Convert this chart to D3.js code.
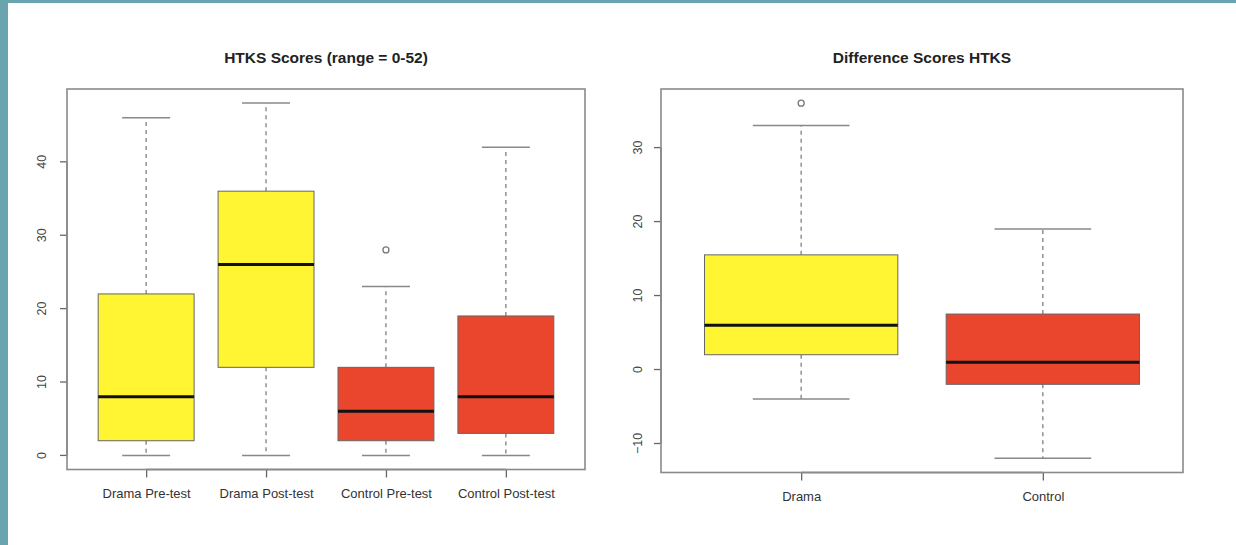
<!DOCTYPE html>
<html>
<head>
<meta charset="utf-8">
<script src="https://cdn.jsdelivr.net/npm/d3@7"></script>
<style>
  html, body { margin: 0; padding: 0; }
  body { width: 1236px; height: 545px; background: #6aa4ae; overflow: hidden; position: relative; }
  #sheet { position: absolute; left: 8px; top: 3px; right: 0; bottom: 0; background: #fff; }
  svg { position: absolute; left: 0; top: 0; }
  text { font-family: "Liberation Sans", Arial, Helvetica, sans-serif; }
</style>
</head>
<body>
<div id="sheet"></div>
<script>
// HTKS raw scores (boxplot summary)
const htksCats = ['Drama Pre-test', 'Drama Post-test', 'Control Pre-test', 'Control Post-test'];
const htksLow = [0, 0, 0, 0];
const htksQ1 = [2, 12, 2, 3];
const htksMedian = [8, 26, 6, 8];
const htksQ3 = [22, 36, 12, 19];
const htksHigh = [46, 48, 23, 42];
const htksOutliers = [[], [], [28], []];
const htksTicks = [0, 10, 20, 30, 40];

// difference scores
const diffCats = ['Drama', 'Control'];
const diffLow = [-4, -12];
const diffQ1 = [2, -2];
const diffMedian = [6, 1];
const diffQ3 = [15.5, 7.5];
const diffHigh = [33, 19];
const diffOutliers = [[36], []];
const diffTicks = [-10, 0, 10, 20, 30];

const colours = { Drama: '#fff533', Control: '#ea462e' };

const svg = d3.select('body').append('svg')
  .attr('width', 1236)
  .attr('height', 545);

function boxplot(cfg) {
  const n = cfg.cats.length;
  const rows = cfg.cats.map((c, i) => ({
    cat: c, pos: i + 1,
    low: cfg.low[i], q1: cfg.q1[i], med: cfg.median[i], q3: cfg.q3[i], high: cfg.high[i],
    out: cfg.outliers[i]
  }));

  // R style ranges, padded by 4%
  const all = rows.flatMap(d => [d.low, d.high, ...d.out]);
  const lo = d3.min(all), hi = d3.max(all);
  const pad = (hi - lo) * 0.04;
  const y = d3.scaleLinear().domain([lo - pad, hi + pad]).range([cfg.bottom, cfg.top]);
  const x = d3.scaleLinear().domain([0.5 - 0.04 * n, n + 0.5 + 0.04 * n]).range([cfg.left, cfg.right]);
  const step = x(2) - x(1);
  const boxW = step * 0.8;
  const capW = boxW * 0.5;

  const g = svg.append('g');

  // title
  g.append('text')
    .attr('x', (cfg.left + cfg.right) / 2)
    .attr('y', 63)
    .attr('text-anchor', 'middle')
    .attr('font-size', 15.5)
    .attr('font-weight', 'bold')
    .attr('fill', '#222')
    .text(cfg.title);

  const box = g.selectAll('.box').data(rows).join('g').attr('class', 'box');

  // whiskers
  box.append('line')
    .attr('x1', d => x(d.pos)).attr('x2', d => x(d.pos))
    .attr('y1', d => y(d.q3)).attr('y2', d => y(d.high))
    .attr('stroke', '#888').attr('stroke-width', 1.4).attr('stroke-dasharray', '4,4');
  box.append('line')
    .attr('x1', d => x(d.pos)).attr('x2', d => x(d.pos))
    .attr('y1', d => y(d.q1)).attr('y2', d => y(d.low))
    .attr('stroke', '#888').attr('stroke-width', 1.4).attr('stroke-dasharray', '4,4');
  // caps
  ['low', 'high'].forEach(k => {
    box.append('line')
      .attr('x1', d => x(d.pos) - capW / 2).attr('x2', d => x(d.pos) + capW / 2)
      .attr('y1', d => y(d[k])).attr('y2', d => y(d[k]))
      .attr('stroke', '#888').attr('stroke-width', 1.5);
  });

  // box body
  box.append('rect')
    .attr('x', d => x(d.pos) - boxW / 2)
    .attr('width', boxW)
    .attr('y', d => y(d.q3))
    .attr('height', d => y(d.q1) - y(d.q3))
    .attr('fill', d => colours[d.cat.split(' ')[0]])
    .attr('stroke', '#666').attr('stroke-width', 1);

  // median
  box.append('line')
    .attr('x1', d => x(d.pos) - boxW / 2).attr('x2', d => x(d.pos) + boxW / 2)
    .attr('y1', d => y(d.med)).attr('y2', d => y(d.med))
    .attr('stroke', '#111').attr('stroke-width', 3);

  // outliers
  box.selectAll('circle').data(d => d.out.map(v => ({ pos: d.pos, v })))
    .join('circle')
    .attr('cx', d => x(d.pos)).attr('cy', d => y(d.v))
    .attr('r', 3).attr('fill', 'none')
    .attr('stroke', '#777').attr('stroke-width', 1.3);

  // axes
  const yAxis = d3.axisLeft(y).tickValues(cfg.ticks).tickSize(7).tickSizeOuter(0).tickFormat(d3.format('d'));
  const ya = g.append('g').attr('transform', `translate(${cfg.left},0)`).call(yAxis);
  ya.select('.domain').attr('d', `M0,${y(cfg.ticks[0])}V${y(cfg.ticks[cfg.ticks.length - 1])}`);
  ya.selectAll('line, path').attr('stroke', '#666').attr('stroke-width', 1.3);
  ya.selectAll('text')
    .attr('x', null).attr('dy', null)
    .attr('transform', d => `translate(${-cfg.labelOff},${y(d)}) rotate(-90)`)
    .attr('y', 0)
    .attr('text-anchor', 'middle')
    .attr('dominant-baseline', 'central')
    .attr('font-size', 12.5).attr('fill', '#444');
  ya.selectAll('.tick').attr('transform', null);
  ya.selectAll('.tick line').attr('transform', d => `translate(0,${y(d)})`);

  const xAxis = d3.axisBottom(x).tickValues(rows.map(d => d.pos)).tickSize(8).tickSizeOuter(0)
    .tickFormat(p => cfg.cats[p - 1]);
  const xa = g.append('g').attr('transform', `translate(0,${cfg.bottom})`).call(xAxis);
  xa.select('.domain').attr('d', `M${x(1)},0H${x(n)}`);
  xa.selectAll('line, path').attr('stroke', '#666').attr('stroke-width', 1.3);
  xa.selectAll('text').attr('y', 19).attr('dy', '0.71em').attr('font-size', 13).attr('fill', '#333');

  // plot frame
  g.append('rect')
    .attr('x', cfg.left).attr('y', cfg.top)
    .attr('width', cfg.right - cfg.left).attr('height', cfg.bottom - cfg.top)
    .attr('fill', 'none').attr('stroke', '#8a8a8a').attr('stroke-width', 1.6);
}

boxplot({
  title: 'HTKS Scores (range = 0-52)',
  cats: htksCats, low: htksLow, q1: htksQ1, median: htksMedian, q3: htksQ3, high: htksHigh,
  outliers: htksOutliers, ticks: htksTicks,
  left: 67, right: 585, top: 89, bottom: 469.5, labelOff: 25
});

boxplot({
  title: 'Difference Scores HTKS',
  cats: diffCats, low: diffLow, q1: diffQ1, median: diffMedian, q3: diffQ3, high: diffHigh,
  outliers: diffOutliers, ticks: diffTicks,
  left: 661, right: 1183, top: 89, bottom: 472.5, labelOff: 23
});
</script>
</body>
</html>
